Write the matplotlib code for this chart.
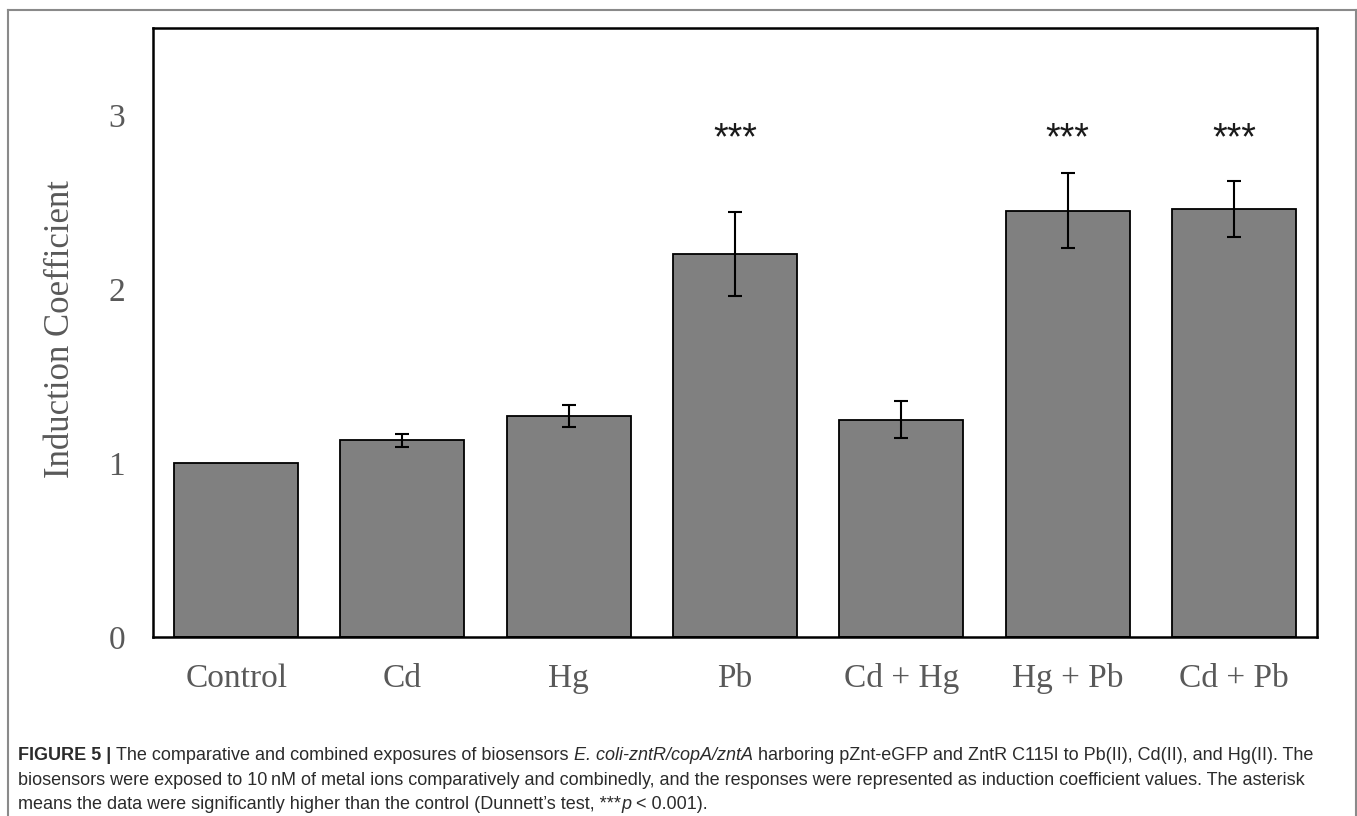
import matplotlib
matplotlib.use("Agg")
import matplotlib.pyplot as plt
from matplotlib.lines import Line2D

categories = ["Control", "Cd", "Hg", "Pb", "Cd + Hg", "Hg + Pb", "Cd + Pb"]
values = [1.00, 1.13, 1.27, 2.20, 1.25, 2.45, 2.46]
errors = [0.0, 0.037, 0.061, 0.242, 0.104, 0.217, 0.163]
significance = ["", "", "", "***", "", "***", "***"]
y_ticks = [0, 1, 2, 3]

W, H = 1357, 816
fig = plt.figure(figsize=(W / 100, H / 100), dpi=100)
ax = fig.add_axes([153 / W, 1 - 637 / H, (1317 - 153) / W, (637 - 28) / H])

x = list(range(len(categories)))
ax.bar(x, values, width=0.745, color="#808080", edgecolor="black", linewidth=1.3, zorder=2)
ax.errorbar(x[1:], values[1:], yerr=errors[1:], fmt="none", ecolor="black",
            elinewidth=1.5, capsize=4.7, capthick=1.5, zorder=3)

for xi, s in zip(x, significance):
    if s:
        ax.text(xi, 2.86, s, ha="center", va="center", fontsize=27,
                family="Liberation Sans", color="#1a1a1a")

ax.set_xlim(-0.5, len(categories) - 0.5)
ax.set_ylim(0, 3.5)
ax.set_xticks(x)
ax.set_xticklabels(categories)
ax.set_yticks(y_ticks)
ax.set_yticklabels([str(t) for t in y_ticks])
ax.tick_params(axis="both", length=0, colors="#595959", labelsize=24)
ax.tick_params(axis="x", pad=19)
ax.tick_params(axis="y", pad=20)
for lbl in ax.get_xticklabels() + ax.get_yticklabels():
    lbl.set_family("Liberation Serif")
ax.set_ylabel("Induction Coefficient", family="Liberation Serif", fontsize=25, color="#595959")
ax.yaxis.set_label_coords(-0.0653, 0.505)
for sp in ax.spines.values():
    sp.set_linewidth(1.8)
    sp.set_color("black")

# outer frame
fc = "#8a8a8a"
fig.add_artist(Line2D([8 / W, 8 / W], [0, 1 - 10 / H], transform=fig.transFigure, color=fc, lw=1.5))
fig.add_artist(Line2D([8 / W, 1356 / W], [1 - 10 / H, 1 - 10 / H], transform=fig.transFigure, color=fc, lw=1.5))
fig.add_artist(Line2D([1356 / W, 1356 / W], [0, 1 - 10 / H], transform=fig.transFigure, color=fc, lw=1.5))

# caption
cap_fs = 12.95
fam = ["Liberation Sans", "DejaVu Sans"]
ccol = "#2b2b2b"
lines = [
    [("FIGURE 5 |", "bold", "normal"), (" ", "normal", "normal"),
     ("The comparative and combined exposures of biosensors ", "normal", "normal"),
     ("E. coli-zntR/copA/zntA", "normal", "italic"),
     (" harboring pZnt-eGFP and ZntR C115I to Pb(II), Cd(II), and Hg(II). The", "normal", "normal")],
    [("biosensors were exposed to 10\u2009nM of metal ions comparatively and combinedly, and the responses were represented as induction coefficient values. The asterisk", "normal", "normal")],
    [("means the data were significantly higher than the control (Dunnett\u2019s test, ***", "normal", "normal"),
     ("p", "normal", "italic"), (" < 0.001).", "normal", "normal")],
]
baselines = [760, 785, 809]
fig.canvas.draw()
renderer = fig.canvas.get_renderer()
for pieces, yb in zip(lines, baselines):
    xp = 18
    for txt, wt, st in pieces:
        t = fig.text(xp / W, 1 - yb / H, txt, fontsize=cap_fs, family=fam, weight=wt,
                     style=st, color=ccol, va="baseline", ha="left")
        bb = t.get_window_extent(renderer=renderer)
        xp += bb.width

fig.savefig("out.png", dpi=100)
